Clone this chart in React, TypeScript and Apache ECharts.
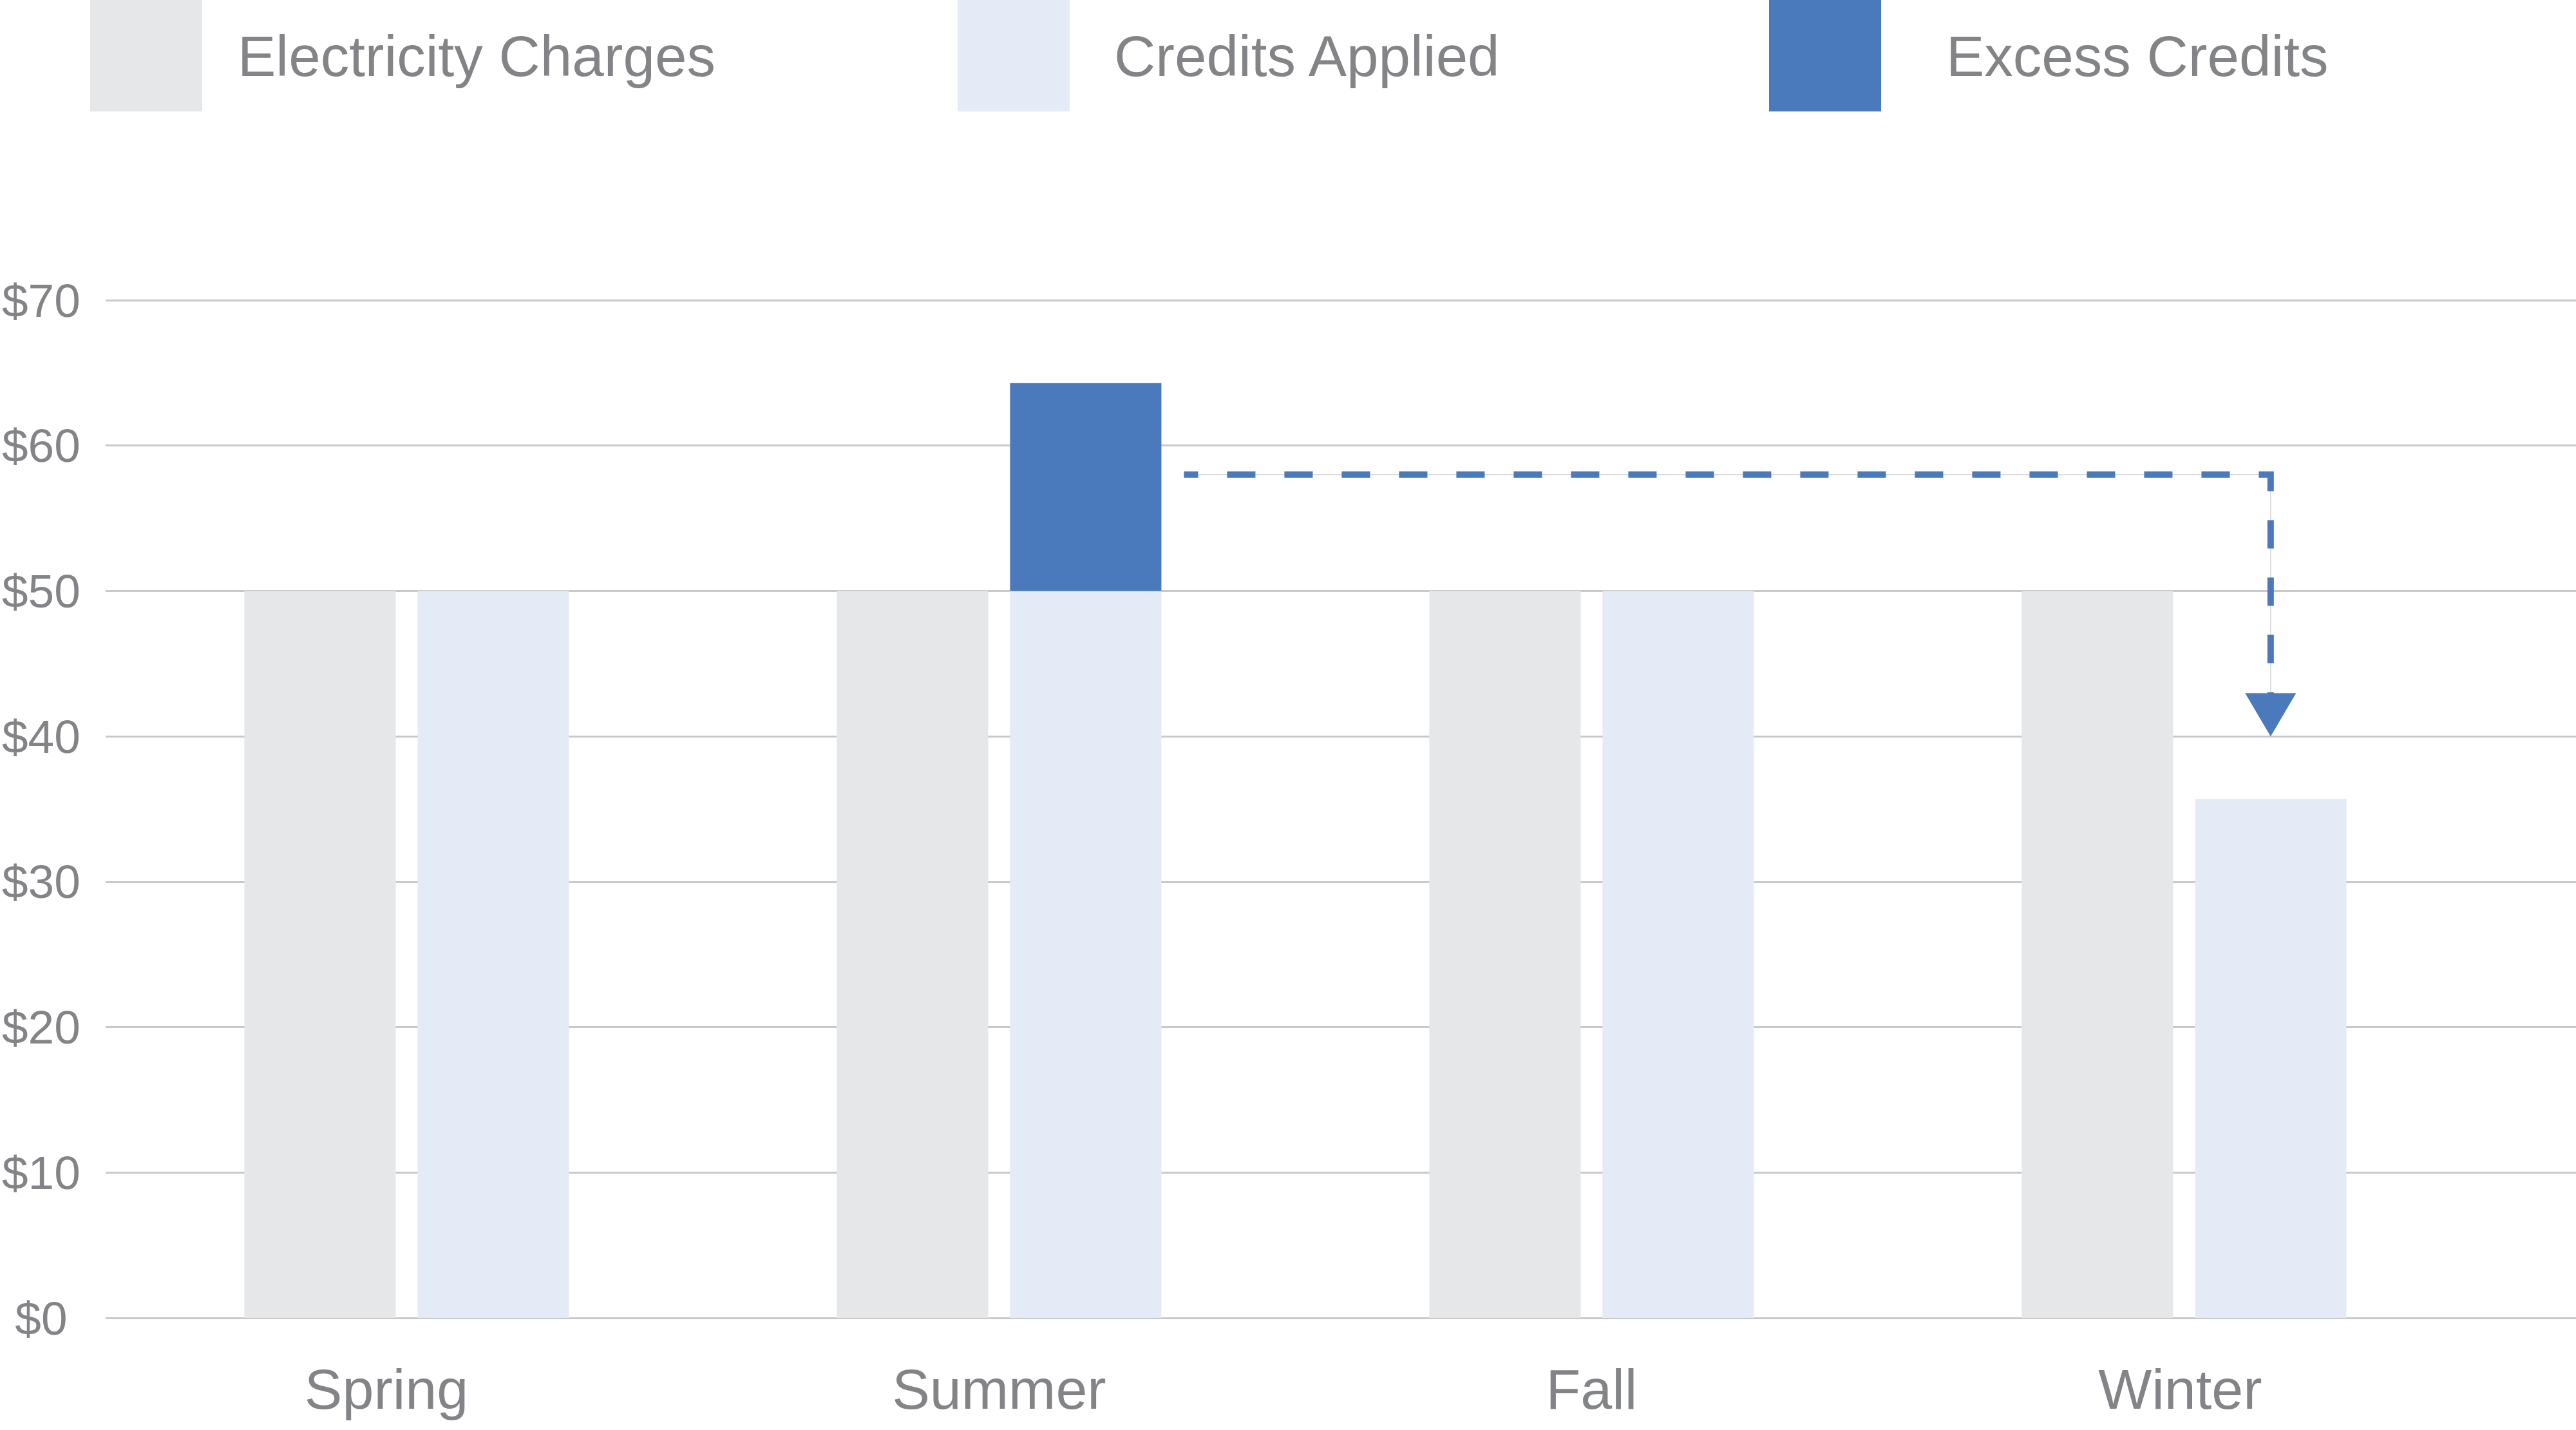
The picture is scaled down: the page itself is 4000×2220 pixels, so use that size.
import React, { useEffect, useRef } from "react";
import * as echarts from "echarts";

const categories = ["Spring", "Summer", "Fall", "Winter"];
const electricityCharges = [50, 50, 50, 50];
const creditsApplied = [50, 50, 50, 35.7];
const excessCredits: (number | string)[] = ["-", 14.3, "-", "-"];
const yMin = 0;
const yMax = 70;
const yStep = 10;
// carry-over arrow: [fromCategoryIndex, level, toCategoryIndex, targetValue]
const carryOverArrow = [[1, 58, 3, 40]];

const TEXT = "#838487";
const FONT = "'Liberation Sans', Arial, sans-serif";
const GRAY = "#e6e7e9";
const LIGHT = "#e4ebf6";
const BLUE = "#4a79bc";

export default function App() {
  const ref = useRef<HTMLDivElement>(null);
  useEffect(() => {
    if (!ref.current) return;
    const chart = echarts.init(ref.current, null, { renderer: "svg" });
    const BAR_W = 235;
    const GAP = 34;
    const legendBase = {
      top: 0,
      padding: 0,
      itemWidth: 174,
      itemHeight: 173,
      icon: "rect",
      selectedMode: false,
    };
    const labelPad: Record<string, number[]> = { Spring: [0, 63, 0, 0], Winter: [0, 12, 0, 0] };
    const option: any = {
      animation: false,
      backgroundColor: "#ffffff",
      legend: [
        { ...legendBase, data: ["Electricity Charges"], left: 140, textStyle: { color: TEXT, fontSize: 89, fontFamily: FONT, padding: [0, 0, 0, 50] } },
        { ...legendBase, data: ["Credits Applied"], left: 1487, textStyle: { color: TEXT, fontSize: 89, fontFamily: FONT, padding: [0, 0, 0, 64] } },
        { ...legendBase, data: ["Excess Credits"], left: 2747, textStyle: { color: TEXT, fontSize: 89, fontFamily: FONT, padding: [0, 0, 0, 96] } },
      ],
      grid: [
        { left: 163, right: 0, top: 466, bottom: 174, containLabel: false },
        { left: 171.5, right: 148.7, top: 466, bottom: 174, containLabel: false },
      ],
      xAxis: [
        { type: "value", gridIndex: 0, show: false, min: 0, max: 1 },
        {
          type: "category",
          gridIndex: 1,
          data: categories.map((c) => (labelPad[c] ? { value: c, textStyle: { padding: labelPad[c] } } : c)),
          axisLine: { show: false },
          axisTick: { show: false },
          axisLabel: { color: TEXT, fontSize: 88, fontFamily: FONT, margin: 66 },
        },
      ],
      yAxis: [
        {
          type: "value",
          gridIndex: 0,
          min: yMin,
          max: yMax,
          interval: yStep,
          axisLine: { show: false },
          axisTick: { show: false },
          splitLine: { lineStyle: { color: "#c9c9c9", width: 3 } },
          axisLabel: {
            color: TEXT,
            fontSize: 73,
            fontFamily: FONT,
            align: "center",
            margin: 100,
            formatter: (v: number) => "$" + v,
          },
        },
        { type: "value", gridIndex: 1, min: yMin, max: yMax, interval: yStep, show: false },
      ],
      series: [
        {
          name: "Electricity Charges",
          type: "bar",
          xAxisIndex: 1,
          yAxisIndex: 1,
          data: electricityCharges,
          barWidth: BAR_W,
          barGap: (GAP / BAR_W) * 100 + "%",
          itemStyle: { color: GRAY },
        },
        {
          name: "Credits Applied",
          type: "bar",
          stack: "credits",
          xAxisIndex: 1,
          yAxisIndex: 1,
          data: creditsApplied,
          barWidth: BAR_W,
          itemStyle: { color: LIGHT },
        },
        {
          name: "Excess Credits",
          type: "bar",
          stack: "credits",
          xAxisIndex: 1,
          yAxisIndex: 1,
          data: excessCredits,
          barWidth: BAR_W,
          itemStyle: { color: BLUE },
        },
        {
          name: "carry",
          type: "custom",
          xAxisIndex: 1,
          yAxisIndex: 1,
          clip: false,
          z: 10,
          silent: true,
          encode: { x: 0, y: 1 },
          data: carryOverArrow,
          renderItem: (params: any, api: any) => {
            const from = api.coord([api.value(0), api.value(1)]);
            const corner = api.coord([api.value(2), api.value(1)]);
            const tip = api.coord([api.value(2), api.value(3)]);
            const creditsOffset = (BAR_W + GAP) / 2;
            const sx = from[0] + creditsOffset + BAR_W / 2 + 35;
            const vx = corner[0] + creditsOffset;
            const y = from[1];
            const tipY = tip[1];
            const pts = [
              [sx, y],
              [vx, y],
              [vx, tipY - 60],
            ];
            return {
              type: "group",
              children: [
                { type: "polyline", shape: { points: pts }, style: { stroke: "#dadada", lineWidth: 1.5, fill: null } },
                {
                  type: "polyline",
                  shape: { points: pts },
                  style: { stroke: BLUE, lineWidth: 10, lineDash: [44, 45], lineDashOffset: 22, fill: null },
                },
                {
                  type: "polygon",
                  shape: { points: [[vx - 39.5, tipY - 67], [vx + 39.5, tipY - 67], [vx, tipY]] },
                  style: { fill: BLUE },
                },
              ],
            };
          },
        },
      ],
    };
    chart.setOption(option);
    return () => chart.dispose();
  }, []);
  return (
    <div
      ref={ref}
      style={{ position: "fixed", left: 0, top: 0, width: 4000, height: 2220, background: "#fff" }}
    />
  );
}
